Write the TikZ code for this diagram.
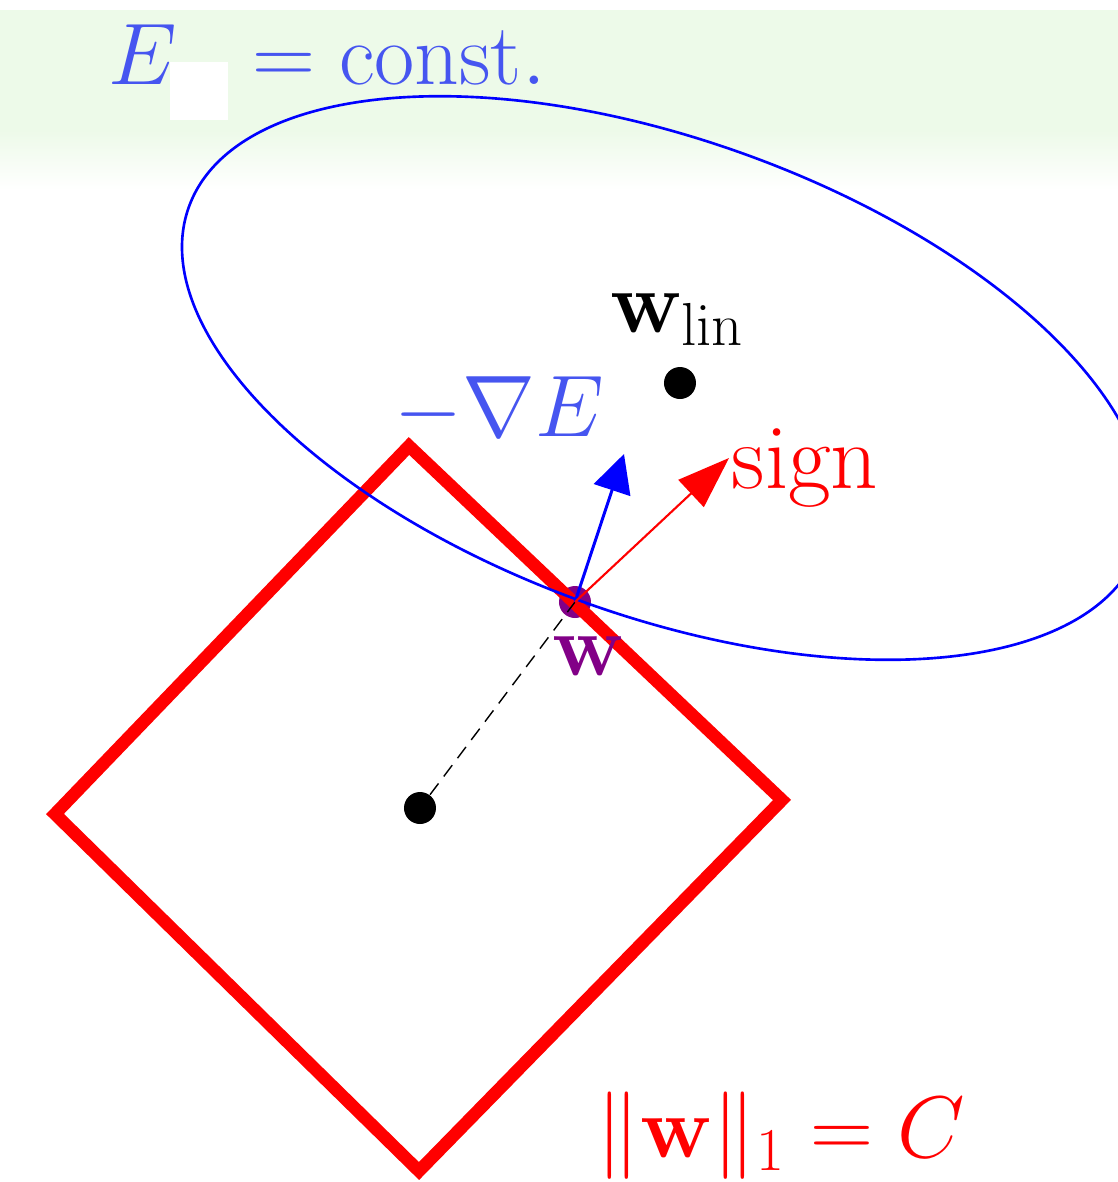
\documentclass[tikz,border=0pt]{standalone}
\usepackage{amsmath}
\usepackage{amssymb}
\usetikzlibrary{positioning, arrows.meta}
\definecolor{bandgreen}{RGB}{237,250,233}
\definecolor{lblblue}{RGB}{70,85,240}
\definecolor{wpurple}{RGB}{130,0,135}

\begin{document}
\begin{tikzpicture}[
    dot/.style={circle, fill=black, inner sep=0pt, minimum size=0.32cm},
    lbl/.style={inner sep=0pt, anchor=base west}]
    \useasboundingbox (0,0) rectangle (11.18,-11.82);

    % Background band
    \fill[bandgreen] (0,-0.10) rectangle (11.18,-1.30);
    \shade[top color=bandgreen, bottom color=white] (0,-1.30) rectangle (11.18,-1.90);

    % Corners of the l1 ball
    \coordinate (top) at (4.09,-4.46);
    \coordinate (right) at (7.82,-8.00);
    \coordinate (bottom) at (4.19,-11.71);
    \coordinate (left) at (0.55,-8.14);

    % Points
    \node[circle, fill=wpurple, inner sep=0pt, minimum size=0.32cm] (w) at (5.75,-6.02) {};
    \draw[red, line width=3.6pt, miter limit=10] (top) -- (right) -- (bottom) -- (left) -- cycle;
    \draw[blue, line width=0.75pt, rotate around={-19.8:(6.64,-3.78)}] (6.64,-3.78) ellipse [x radius=5.05, y radius=2.38];
    \node[dot] (c) at (4.20,-8.08) {};
    \node[dot] (wlin) at (6.80,-3.83) {};
    \draw[dashed, dash pattern=on 4pt off 2.5pt, line width=0.4pt] (c) -- (w.center);

    % Vectors
    \coordinate (gradtip) at (6.24,-4.54);
    \coordinate (signtip) at (7.29,-4.58);
    \draw[blue, line width=0.85pt, -{Triangle[length=0.38cm, width=0.38cm]}] (w.center) -- (gradtip);
    \draw[red, line width=0.6pt, -{Triangle[length=0.52cm, width=0.37cm]}] (w.center) -- (signtip);

    % Labels
    \node[lbl, lblblue, font=\fontsize{28}{34}\selectfont] (econst) at (1.08,-0.84) {$E_{\hspace{0.55em}} = \mathrm{const.}$};
    \fill[white] (1.70,-0.62) rectangle (2.28,-1.20);
    \node[lbl, lblblue, font=\fontsize{25}{30}\selectfont] (gradlbl) at (3.94,-4.36) {$-\nabla E$};
    \node[lbl, black, font=\fontsize{25.5}{30}\selectfont] (wlinlbl) at (6.10,-3.32) {$\mathbf{w}_{\mathrm{lin}}$};
    \node[lbl, red, font=\fontsize{26.4}{32}\selectfont] (signlbl) at (7.31,-4.88) {sign};
    \node[lbl, wpurple, font=\fontsize{25}{30}\selectfont] (wlbl) at (5.52,-6.75) {$\mathbf{w}$};
    \node[lbl, red, font=\fontsize{25.5}{30}\selectfont] (normlbl) at (5.96,-11.57) {$\|\mathbf{w}\|_1 = C$};
\end{tikzpicture}
\end{document}
